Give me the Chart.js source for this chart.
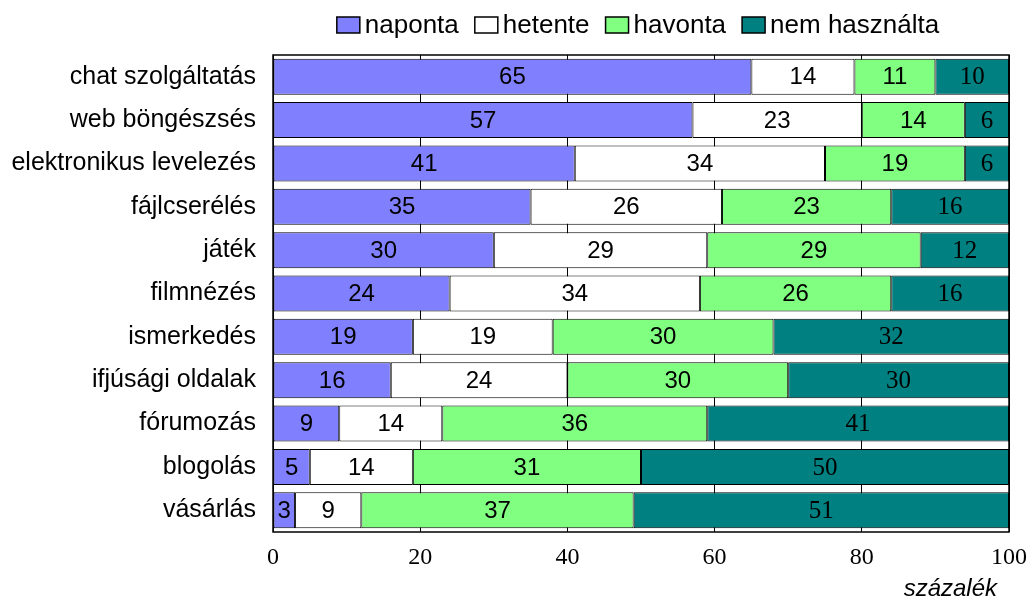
<!DOCTYPE html>
<html>
<head>
<meta charset="utf-8">
<script src="https://cdn.jsdelivr.net/npm/chart.js@4.4.0/dist/chart.umd.min.js"></script>
<style>
  html, body { margin: 0; padding: 0; background: #fff; }
  #wrap { width: 1034px; height: 601px; position: relative; }
</style>
</head>
<body>
<div id="wrap"><canvas id="usageChart"></canvas></div>
<script>
// Internet használat gyakorisága
const categories = ['chat szolgáltatás', 'web böngészsés', 'elektronikus levelezés', 'fájlcserélés',
    'játék', 'filmnézés', 'ismerkedés', 'ifjúsági oldalak', 'fórumozás', 'blogolás', 'vásárlás'];
const seriesNames = ['naponta', 'hetente', 'havonta', 'nem használta'];
const naponta = [65, 57, 41, 35, 30, 24, 19, 16, 9, 5, 3];
const hetente = [14, 23, 34, 26, 29, 34, 19, 24, 14, 14, 9];
const havonta = [11, 14, 19, 23, 29, 26, 30, 30, 36, 31, 37];
const nemHasznalta = [10, 6, 6, 16, 12, 16, 32, 30, 41, 50, 51];
const xTicks = [0, 20, 40, 60, 80, 100];
const xTitle = 'százalék';

const colors = ['#8080FF', '#FFFFFF', '#80FF80', '#008080'];
const labelFonts = ['24px Arial', '24px Arial', '24px Arial', '25px "Liberation Serif"'];

// labels inside the bars
const barLabels = {
    id: 'barLabels',
    afterDatasetsDraw(chart) {
        const ctx = chart.ctx;
        ctx.save();
        ctx.fillStyle = '#000';
        ctx.textAlign = 'center';
        ctx.textBaseline = 'middle';
        chart.data.datasets.forEach((ds, i) => {
            const meta = chart.getDatasetMeta(i);
            ctx.font = labelFonts[i];
            meta.data.forEach((bar, j) => {
                const x = (bar.x + bar.base) / 2;
                ctx.fillText(String(ds.data[j]), x, bar.y + 1);
            });
        });
        ctx.restore();
    }
};

// frame round the plot area + axis title under the right end
const plotFrame = {
    id: 'plotFrame',
    afterDraw(chart) {
        const a = chart.chartArea;
        const ctx = chart.ctx;
        ctx.save();
        ctx.strokeStyle = '#000';
        ctx.lineWidth = 1.5;
        ctx.strokeRect(a.left, a.top, a.right - a.left, a.bottom - a.top);
        ctx.font = 'italic 24px Arial';
        ctx.fillStyle = '#000';
        ctx.textAlign = 'right';
        ctx.textBaseline = 'middle';
        ctx.fillText(xTitle, a.right - 12, a.bottom + 57);
        ctx.restore();
    }
};

// legend on one row above the plot, small gap between box and text
const topLegend = {
    id: 'topLegend',
    afterDraw(chart) {
        const ctx = chart.ctx;
        const a = chart.chartArea;
        const boxW = 23, boxH = 16, gap = 5, spacing = 16, y = 25;
        ctx.save();
        ctx.font = '26px Arial';
        const items = chart.data.datasets.map(ds => ({
            label: ds.label, color: ds.backgroundColor, w: ctx.measureText(ds.label).width
        }));
        const total = items.reduce((s, it) => s + boxW + gap + it.w, 0) + spacing * (items.length - 1);
        let x = (a.left + a.right) / 2 - total / 2 - 3;
        ctx.textBaseline = 'middle';
        ctx.textAlign = 'left';
        items.forEach(it => {
            ctx.fillStyle = it.color;
            ctx.fillRect(x, y - boxH / 2, boxW, boxH);
            ctx.strokeStyle = '#000';
            ctx.lineWidth = 1.5;
            ctx.strokeRect(x, y - boxH / 2, boxW, boxH);
            ctx.fillStyle = '#000';
            ctx.fillText(it.label, x + boxW + gap, y + 1);
            x += boxW + gap + it.w + spacing;
        });
        ctx.restore();
    }
};

const datasets = [naponta, hetente, havonta, nemHasznalta].map((d, i) => ({
    label: seriesNames[i],
    data: d,
    backgroundColor: colors[i],
    borderColor: '#000',
    borderWidth: 1,
    borderSkipped: false,
    barPercentage: 0.83,
    categoryPercentage: 1
}));

new Chart(document.getElementById('usageChart'), {
    type: 'bar',
    data: { labels: categories, datasets: datasets },
    plugins: [barLabels, plotFrame, topLegend],
    options: {
        indexAxis: 'y',
        responsive: true,
        maintainAspectRatio: false,
        animation: false,
        layout: { padding: { top: 55, right: 25, bottom: 0, left: 0 } },
        plugins: {
            legend: { display: false },
            tooltip: { enabled: false }
        },
        scales: {
            x: {
                stacked: true,
                min: 0,
                max: 100,
                afterBuildTicks(scale) {
                    scale.ticks = xTicks.map(v => ({ value: v }));
                },
                afterFit(scale) {
                    scale.height = 69;
                    scale.paddingRight = 0;
                    scale.paddingLeft = 0;
                },
                grid: { color: '#000', lineWidth: 1, drawTicks: false },
                border: { display: false },
                ticks: {
                    color: '#000',
                    padding: 11,
                    font: { family: '"Liberation Serif"', size: 24 }
                }
            },
            y: {
                stacked: true,
                grid: { display: false },
                border: { display: false },
                afterFit(scale) { scale.width = 273; },
                ticks: {
                    color: '#000',
                    padding: 9,
                    font: { family: 'Arial', size: 25 }
                }
            }
        }
    }
});
</script>
</body>
</html>
